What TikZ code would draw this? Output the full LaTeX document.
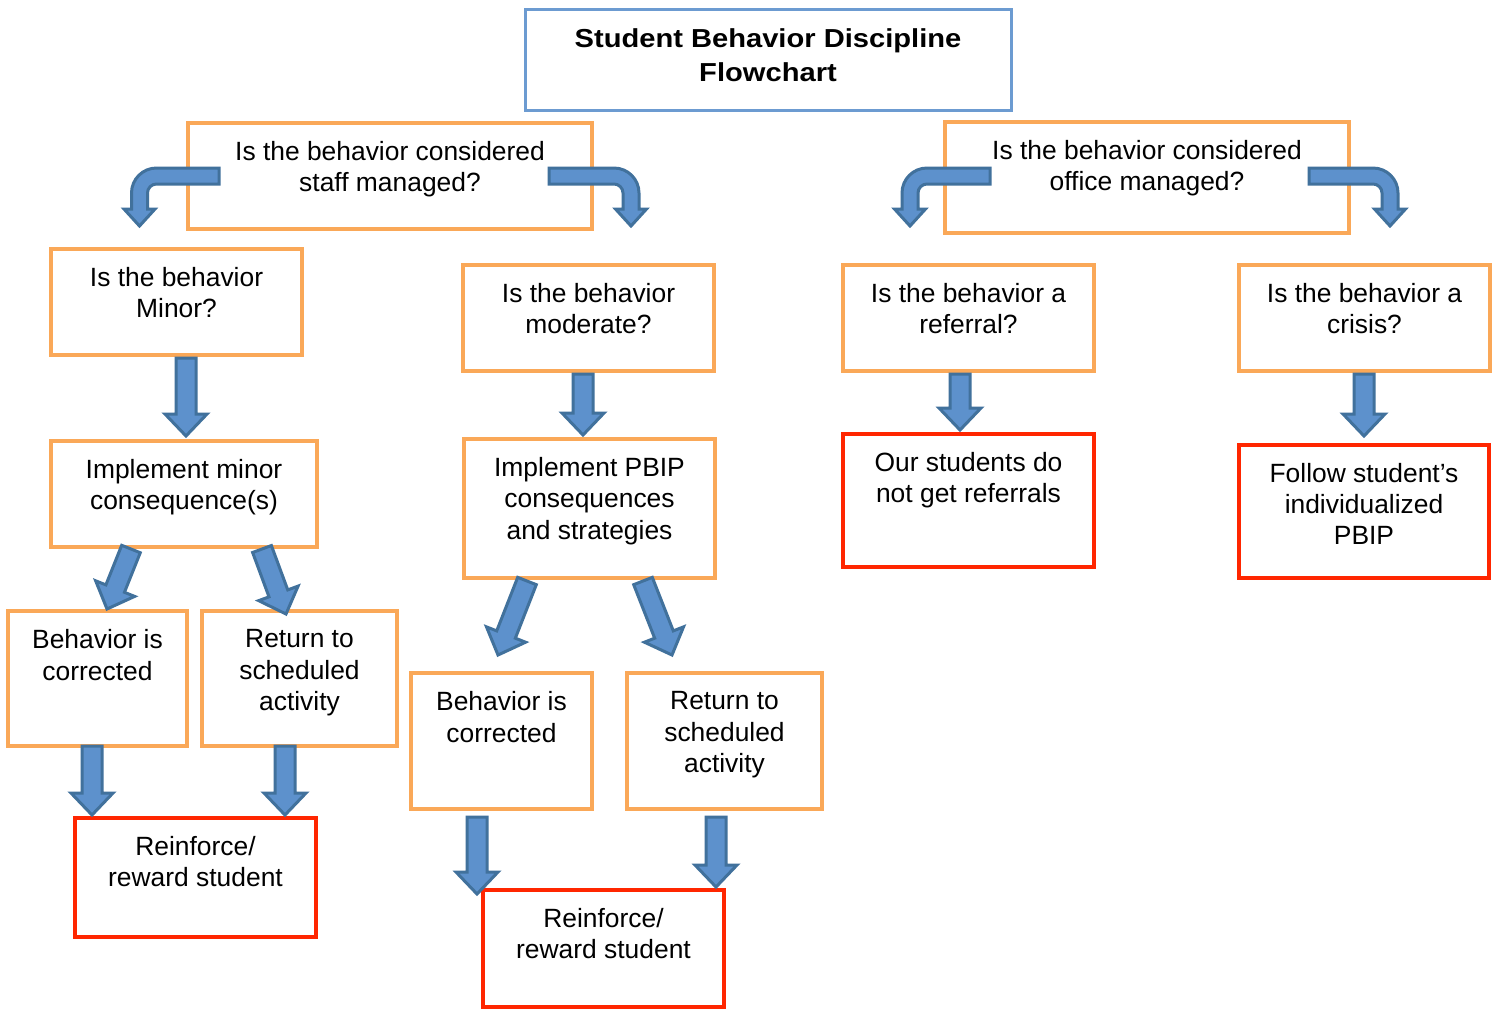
\documentclass[tikz,border=0pt]{standalone}
\usepackage{fontspec}
\setmainfont{Liberation Sans}
\newfontfamily\titlefont{Liberation Sans}[FakeStretch=1.12]
\usetikzlibrary{calc,fit}
\definecolor{orangeb}{RGB}{250,168,88}
\definecolor{redb}{RGB}{255,38,0}
\definecolor{blueb}{RGB}{108,155,209}
\definecolor{afill}{RGB}{93,145,204}
\definecolor{aline}{RGB}{65,113,156}
\tikzset{
 obox/.style={draw=orangeb, line width=1.75pt, inner sep=0pt, rectangle},
 rbox/.style={draw=redb, line width=2pt, inner sep=0pt, rectangle},
 tbox/.style={draw=blueb, line width=1.5pt, inner sep=0pt, rectangle},
 txt/.style={font=\fontsize{13.2}{15.6}\selectfont, align=center, inner sep=0pt, anchor=north},
 ttxt/.style={font=\titlefont\bfseries\fontsize{13}{17}\selectfont, align=center, inner sep=0pt, anchor=north},
 blockarrow/.style={fill=afill, draw=aline, line width=1.5pt},
}
\newcommand\mybox[7]{%
  \coordinate (#1-nw) at (#3,#4);
  \coordinate (#1-se) at (#5,#6);
  \node[#2, fit=(#1-nw)(#1-se)] (#1) {};
  \node[txt] (#1-t) at ([yshift=-10pt]#1.north) {#7};
}
\newcommand\sarrow[3]{%
  \coordinate (#1-s) at #2;
  \coordinate (#1-e) at #3;
  \coordinate (#1-h) at ($(#1-e)!11pt!(#1-s)$);
  \draw[blockarrow] ($(#1-s)!5pt!90:(#1-e)$) -- ($(#1-h)!5pt!90:(#1-e)$)
     -- ($(#1-h)!10.5pt!90:(#1-e)$) -- (#1-e) -- ($(#1-h)!10.5pt!-90:(#1-e)$)
     -- ($(#1-h)!5pt!-90:(#1-e)$) -- ($(#1-s)!5pt!-90:(#1-e)$) -- cycle;
}
\newcommand\carrow[4]{%
  \coordinate (#1) at (#2,176);
  \draw[blockarrow] (#2,168) -- ({#3-#4*17},168)
    .. controls ({#3-#4*3.2},168) and ({#3+#4*8},179.2) .. ({#3+#4*8},193)
    -- ({#3+#4*8},209) -- ({#3+#4*15.5},209) -- (#3,226) -- ({#3-#4*15.5},209)
    -- ({#3-#4*8},209) -- ({#3-#4*8},193)
    .. controls ({#3-#4*8},188.05) and ({#3-#4*12.05},184) .. ({#3-#4*17},184)
    -- (#2,184) -- cycle;
}
\begin{document}
\begin{tikzpicture}[x=0.5pt,y=-0.5pt]
\useasboundingbox (0,0) rectangle (1498,1009);
\fill[white] (0,0) rectangle (1498,1009);
% title
\coordinate (title-nw) at (525,9);
\coordinate (title-se) at (1011,110);
\node[tbox, fit=(title-nw)(title-se)] (title) {};
\node[ttxt] (title-t) at ([yshift=-10.5pt]title.north) {Student Behavior Discipline\\Flowchart};
% boxes
\mybox{q1}{obox}{188}{123}{592}{229}{Is the behavior considered\\staff managed?}
\mybox{q2}{obox}{945}{122}{1349}{233}{Is the behavior considered\\office managed?}
\mybox{minor}{obox}{51}{249}{302}{355}{Is the behavior\\Minor?}
\mybox{moder}{obox}{463}{265}{714}{371}{Is the behavior\\moderate?}
\mybox{refer}{obox}{843}{265}{1094}{371}{Is the behavior a\\referral?}
\mybox{crisis}{obox}{1239}{265}{1490}{371}{Is the behavior a\\crisis?}
\mybox{impmin}{obox}{51}{441}{317}{547}{Implement minor\\consequence(s)}
\mybox{imppb}{obox}{464}{439}{715}{578}{Implement PBIP\\consequences\\and strategies}
\mybox{noref}{rbox}{843}{434}{1094}{567}{Our students do\\not get referrals}
\mybox{follow}{rbox}{1239}{445}{1489}{578}{Follow student’s\\individualized\\PBIP}
\mybox{corr1}{obox}{8}{611}{187}{746}{Behavior is\\corrected}
\mybox{ret1}{obox}{202}{611}{397}{746}{Return to\\scheduled\\activity}
\mybox{corr2}{obox}{411}{673}{592}{809}{Behavior is\\corrected}
\mybox{ret2}{obox}{627}{673}{822}{809}{Return to\\scheduled\\activity}
\mybox{rein1}{rbox}{75}{818}{316}{937}{Reinforce/\\reward student}
\mybox{rein2}{rbox}{483}{890}{724}{1007}{Reinforce/\\reward student}
% curved arrows
\carrow{c1}{219}{139.5}{(-1)}
\carrow{c2}{549}{631}{1}
\carrow{c3}{990}{910}{(-1)}
\carrow{c4}{1309}{1390}{1}
% straight arrows
\sarrow{a1}{(186,358)}{(186,436)}
\sarrow{a2}{(583,374)}{(583,435)}
\sarrow{a3}{(960,374)}{(960,430)}
\sarrow{a4}{(1364,374)}{(1364,436)}
\sarrow{a5}{(131,549)}{(107,609)}
\sarrow{a6}{(262,549)}{(286,614)}
\sarrow{a7}{(527,581)}{(498,655)}
\sarrow{a8}{(643,581)}{(672,655)}
\sarrow{a9}{(92,746)}{(92,815)}
\sarrow{a10}{(285,746)}{(285,815)}
\sarrow{a11}{(477,817)}{(477,894)}
\sarrow{a12}{(716,817)}{(716,887)}
\end{tikzpicture}
\end{document}
